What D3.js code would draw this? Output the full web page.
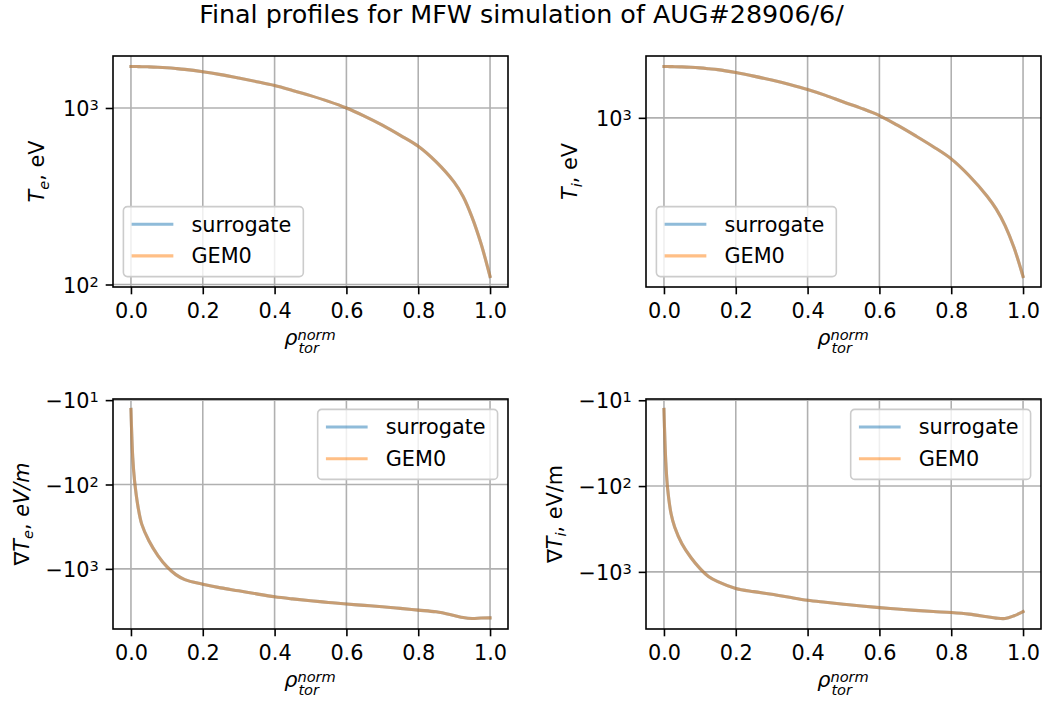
<!DOCTYPE html>
<html lang="en">
<head>
  <meta charset="UTF-8">
  <title>Final profiles for MFW simulation of AUG#28906/6/</title>
  <script src="https://d3js.org/d3.v7.min.js"></script>
  <style>
    body { margin: 0; background: #fff; }
    svg { display: block; font-family: "DejaVu Sans", sans-serif; }
    .tick text { font-size: 20.8px; fill: #000; font-family: "DejaVu Sans", sans-serif; }
    .tick line { stroke: #000; stroke-width: 1.6; }
    .domain { display: none; }
    .grid line { stroke: #b0b0b0; stroke-width: 1.6; }
  </style>
</head>
<body>
<div id="chart"></div>
<script>
  // ## Data
  const rho = [0, 0.005, 0.01, 0.02, 0.03, 0.05, 0.075, 0.1, 0.125, 0.15, 0.2, 0.25, 0.3, 0.35, 0.4,
               0.45, 0.5, 0.55, 0.6, 0.65, 0.7, 0.75, 0.8, 0.85, 0.9, 0.925, 0.95, 0.975, 1.0];

  const teSurrogate = [1718, 1718, 1717, 1716, 1714, 1710, 1702, 1690, 1674, 1655, 1605, 1545, 1478, 1410, 1341,
                       1258, 1175, 1090, 1000, 900, 800, 700, 607, 495, 380, 315, 240, 170, 111];
  const teGem0 = teSurrogate.slice();

  const tiSurrogate = [1935, 1935, 1934, 1932, 1930, 1925, 1915, 1900, 1880, 1858, 1790, 1710, 1625, 1535, 1440,
                       1335, 1225, 1130, 1030, 910, 795, 690, 590, 475, 365, 310, 250, 188, 130];
  const tiGem0 = tiSurrogate.slice();

  const dteSurrogate = [-12.9, -48, -90, -187, -295, -465, -695, -940, -1170, -1340, -1520, -1680, -1820, -1980, -2140,
                        -2270, -2390, -2500, -2610, -2710, -2810, -2940, -3080, -3230, -3570, -3780, -3880, -3830, -3810];
  const dteGem0 = dteSurrogate.slice();

  const dtiSurrogate = [-12.8, -51, -105, -212, -302, -470, -680, -910, -1140, -1300, -1560, -1700, -1820, -1980, -2140,
                        -2260, -2380, -2500, -2610, -2710, -2810, -2900, -2980, -3110, -3340, -3460, -3500, -3250, -2910];
  const dtiGem0 = dtiSurrogate.slice();

  const xTicks = [0, 0.2, 0.4, 0.6, 0.8, 1.0];
  const logTicks = [10, 100, 1000, 10000];
  const seriesNames = ["surrogate", "GEM0"];
  const seriesColors = ["#1f77b4", "#ff7f0e"];

  // ## Layout
  const width = 1043, height = 702;
  const fs = 20.8, fsSmall = 14.6;

  const panels = [
    { left: 113, top: 56, w: 395, h: 231, neg: false, legend: "lower left", labelGap: 69,
      series: [teSurrogate, teGem0],
      ylabel: [{t: "T", it: true}, {t: "e", it: true, sub: true}, {t: ", eV"}] },
    { left: 646, top: 56, w: 395, h: 231, neg: false, legend: "lower left", labelGap: 69,
      series: [tiSurrogate, tiGem0],
      ylabel: [{t: "T", it: true}, {t: "i", it: true, sub: true}, {t: ", eV"}] },
    { left: 113, top: 399, w: 395, h: 230, neg: true, legend: "upper right", labelGap: 84.5,
      series: [dteSurrogate, dteGem0],
      ylabel: [{t: "\u2207"}, {t: "T", it: true}, {t: "e", it: true, sub: true}, {t: ", "}, {t: "eV/m", it: true}] },
    { left: 646, top: 399, w: 395, h: 230, neg: true, legend: "upper right", labelGap: 84.5,
      series: [dtiSurrogate, dtiGem0],
      ylabel: [{t: "\u2207"}, {t: "T", it: true}, {t: "i", it: true, sub: true}, {t: ", eV/m"}] }
  ];

  const svg = d3.select("#chart").append("svg")
      .attr("width", width)
      .attr("height", height);

  // ## Title
  svg.append("text")
      .attr("x", width / 2)
      .attr("y", 23)
      .attr("text-anchor", "middle")
      .style("font-size", "25.4px")
      .text("Final profiles for MFW simulation of AUG#28906/6/");

  panels.forEach(p => drawPanel(p));

  function drawPanel(p) {
    const g = svg.append("g").attr("transform", `translate(${p.left},${p.top})`);

    const xScale = d3.scaleLinear().domain([-0.05, 1.05]).range([0, p.w]);

    // log scale on magnitude, 5% margins in log space (like matplotlib)
    const mags = p.series[0].map(v => Math.abs(v));
    const lo = Math.log10(d3.min(mags)), hi = Math.log10(d3.max(mags));
    const pad = 0.05 * (hi - lo);
    const yScale = d3.scaleLog()
        .domain([Math.pow(10, lo - pad), Math.pow(10, hi + pad)])
        .range(p.neg ? [0, p.h] : [p.h, 0]);

    const yTicks = logTicks.filter(t => t >= yScale.domain()[0] && t <= yScale.domain()[1]);

    // grid
    const grid = g.append("g").attr("class", "grid");
    grid.selectAll(".gx").data(xTicks).join("line")
        .attr("x1", d => xScale(d)).attr("x2", d => xScale(d))
        .attr("y1", 0).attr("y2", p.h);
    grid.selectAll(".gy").data(yTicks).join("line")
        .attr("x1", 0).attr("x2", p.w)
        .attr("y1", d => yScale(d)).attr("y2", d => yScale(d));

    // lines
    const line = d3.line()
        .x((d, i) => xScale(rho[i]))
        .y(d => yScale(Math.abs(d)))
        .curve(d3.curveCatmullRom.alpha(0.5));

    p.series.forEach((s, i) => {
      g.append("path")
          .datum(s)
          .attr("fill", "none")
          .attr("stroke", seriesColors[i])
          .attr("stroke-opacity", 0.5)
          .attr("stroke-width", 3.1)
          .attr("stroke-linejoin", "round")
          .attr("stroke-linecap", "square")
          .attr("d", line);
    });

    // x axis
    g.append("g")
        .attr("transform", `translate(0,${p.h})`)
        .call(d3.axisBottom(xScale).tickValues(xTicks).tickFormat(d3.format(".1f"))
          .tickSize(7.3).tickPadding(9));

    // y axis with superscript labels
    const yAxis = g.append("g")
        .call(d3.axisLeft(yScale).tickValues(yTicks).tickFormat("").tickSize(7.3).tickPadding(7));
    yAxis.selectAll(".tick text").each(function(d) {
      const t = d3.select(this).attr("dy", "0.37em");
      t.append("tspan").text((p.neg ? "\u2212" : "") + "10");
      t.append("tspan")
          .attr("dy", -6)
          .style("font-size", fsSmall + "px")
          .text(String(Math.round(Math.log10(d))));
    });

    // spines
    g.append("rect")
        .attr("width", p.w).attr("height", p.h)
        .attr("fill", "none")
        .attr("stroke", "#000")
        .attr("stroke-width", 1.6);

    // y label
    const yl = g.append("text")
        .attr("transform", `translate(${-p.labelGap},${p.h / 2}) rotate(-90)`)
        .attr("text-anchor", "middle")
        .style("font-size", fs + "px");
    let shifted = false;
    p.ylabel.forEach(part => {
      const ts = yl.append("tspan").text(part.t)
          .style("font-style", part.it ? "italic" : "normal");
      if (part.sub) {
        ts.attr("dy", 4.5).style("font-size", fsSmall + "px");
        shifted = true;
      } else if (shifted) {
        ts.attr("dy", -4.5);
        shifted = false;
      }
    });

    // x label: rho_tor^norm, one text with stacked sup/sub
    const xl = g.append("text")
        .style("font-size", fs + "px")
        .style("font-style", "italic");
    const rhoT = xl.append("tspan").attr("x", 0).text("\u03c1");
    const rw = rhoT.node().getComputedTextLength();
    const supT = xl.append("tspan").attr("dy", -5.5)
        .style("font-size", fsSmall + "px").text("norm");
    const subT = xl.append("tspan").attr("x", rw + 1).attr("dy", 13.5)
        .style("font-size", fsSmall + "px").text("tor");
    const totalW = rw + 1 + Math.max(supT.node().getComputedTextLength(), subT.node().getComputedTextLength());
    xl.attr("transform", `translate(${p.w / 2 - totalW / 2},${p.h + 58})`);

    // legend
    const leg = g.append("g");
    const texts = seriesNames.map((name, i) =>
      leg.append("text")
          .attr("x", 68)
          .attr("y", 17.6 + i * 31.7 + 7.4)
          .style("font-size", fs + "px")
          .text(name));
    const tw = d3.max(texts, t => t.node().getComputedTextLength());
    const bw = tw + 80, bh = 70;
    leg.insert("rect", "text")
        .attr("width", bw).attr("height", bh)
        .attr("rx", 4).attr("ry", 4)
        .attr("fill", "#fff").attr("fill-opacity", 0.8)
        .attr("stroke", "#cccccc").attr("stroke-width", 1.6);
    seriesNames.forEach((name, i) => {
      leg.insert("line", "text")
          .attr("x1", 9.8).attr("x2", 48.4)
          .attr("y1", 17.6 + i * 31.7).attr("y2", 17.6 + i * 31.7)
          .attr("stroke", seriesColors[i])
          .attr("stroke-opacity", 0.5)
          .attr("stroke-width", 3.1)
          .attr("stroke-linecap", "square");
    });
    if (p.legend === "lower left") {
      leg.attr("transform", `translate(10.4,${p.h - 10.4 - bh})`);
    } else {
      leg.attr("transform", `translate(${p.w - 10.4 - bw},10.4)`);
    }
  }
</script>
</body>
</html>
